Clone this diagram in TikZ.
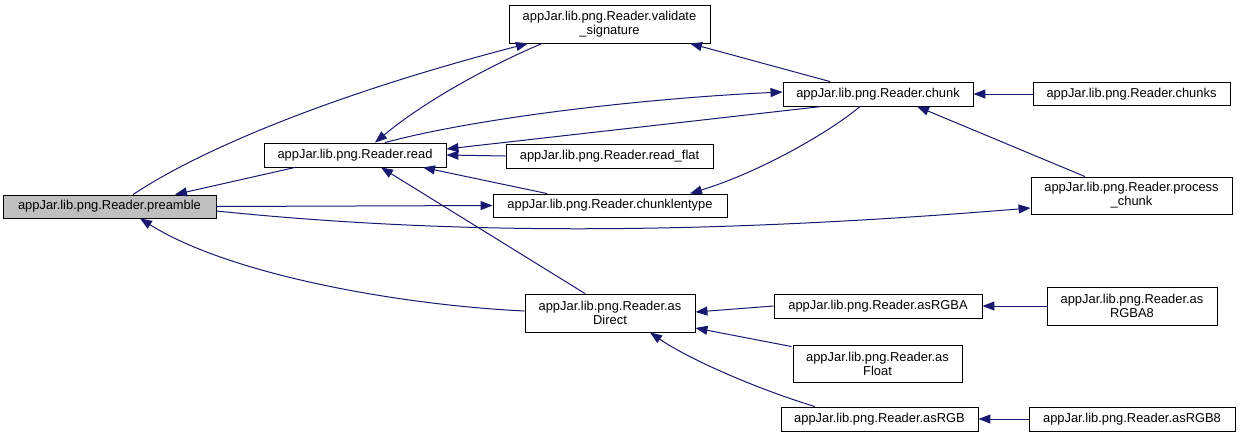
\documentclass[tikz,border=0pt]{standalone}
\usepackage{fontspec}
\setmainfont{Liberation Sans}
\usetikzlibrary{arrows.meta}
\definecolor{edgec}{HTML}{191970}
\definecolor{hl}{HTML}{BFBFBF}
\begin{document}
\begin{tikzpicture}[x=1pt,y=-1pt,
  fn/.style={draw=black, line width=0.9pt, fill=white, inner sep=0pt, align=center,
    font=\fontsize{12.9}{14}\selectfont, text=black},
  e/.style={draw=edgec, line width=1pt, -{Triangle[length=12pt,width=9pt,fill=edgec]}}]
\useasboundingbox[fill=white] (0,0) rectangle (1240,437);
% nodes
\node[fn, fill=hl, minimum width=213pt, minimum height=23pt] (pre) at (109.5,206.5) {appJar.lib.png.Reader.preamble};
\node[fn, minimum width=182pt, minimum height=24pt] (read) at (355,155) {appJar.lib.png.Reader.read};
\node[fn, minimum width=201pt, minimum height=38pt] (vs) at (609.5,24) {appJar.lib.png.Reader.validate\\\_signature};
\node[fn, minimum width=190pt, minimum height=24pt] (chunk) at (878,94) {appJar.lib.png.Reader.chunk};
\node[fn, minimum width=197pt, minimum height=23pt] (chunks) at (1131.5,94) {appJar.lib.png.Reader.chunks};
\node[fn, minimum width=207pt, minimum height=24pt] (flat) at (609.5,156) {appJar.lib.png.Reader.read\_flat};
\node[fn, minimum width=234pt, minimum height=23pt] (clt) at (610,205.5) {appJar.lib.png.Reader.chunklentype};
\node[fn, minimum width=201pt, minimum height=37pt] (pc) at (1131.5,195.5) {appJar.lib.png.Reader.process\\\_chunk};
\node[fn, minimum width=170pt, minimum height=38pt] (dir) at (610,313) {appJar.lib.png.Reader.as\\Direct};
\node[fn, minimum width=208pt, minimum height=24pt] (rgba) at (878,306) {appJar.lib.png.Reader.asRGBA};
\node[fn, minimum width=170pt, minimum height=38pt] (rgba8) at (1132,306) {appJar.lib.png.Reader.as\\RGBA8};
\node[fn, minimum width=169pt, minimum height=37pt] (flt) at (877.5,363.5) {appJar.lib.png.Reader.as\\Float};
\node[fn, minimum width=197pt, minimum height=24pt] (rgb) at (879.5,419) {appJar.lib.png.Reader.asRGB};
\node[fn, minimum width=206pt, minimum height=24pt] (rgb8) at (1132,419) {appJar.lib.png.Reader.asRGB8};
% edges
\draw[e] ([xshift=23.5pt]pre.north) .. controls (200,150) and (330,95) .. ([xshift=-81.5pt]vs.south);
\draw[e] ([xshift=-67.5pt]vs.south) .. controls (480,70) and (420,105) .. ([xshift=20pt]read.north);
\draw[e] ([xshift=-48pt]chunk.north) -- ([xshift=80.5pt]vs.south);
\draw[e] ([xshift=30pt]read.north) .. controls (480,117) and (650,98) .. ([yshift=2pt]chunk.west);
\draw[e] ([xshift=-56pt]chunk.south) -- ([yshift=6pt]read.east);
\draw[e] (flat.west) -- (read.east);
\draw[e] ([xshift=-63pt]clt.north) -- ([xshift=68pt]read.south);
\draw[e] ([xshift=-18pt]chunk.south) .. controls (830,132) and (760,172) .. ([xshift=80pt]clt.north);
\draw[e] ([xshift=-25pt]dir.north) -- ([xshift=26pt]read.south);
\draw[e] ([xshift=-60pt]read.south) -- ([xshift=65.5pt]pre.north);
\draw[e] (pre.east) -- (clt.west);
\draw[e] ([yshift=-4.5pt]pre.east) .. controls (450,235) and (700,235) .. ([yshift=-12.5pt]pc.west);
\draw[e] ([yshift=2pt]dir.west) .. controls (400,305) and (230,275) .. ([xshift=30.5pt]pre.south);
\draw[e] (chunks.west) -- (chunk.east);
\draw[e] ([xshift=-46.5pt]pc.north) -- ([xshift=39pt]chunk.south);
\draw[e] (rgba.west) -- ([yshift=1pt]dir.east);
\draw[e] ([xshift=-1pt,yshift=-2pt]flt.north west) -- ([yshift=-15pt]dir.east);
\draw[e] ([xshift=-64.5pt]rgb.north) .. controls (760,390) and (690,360) .. ([xshift=40pt]dir.south);
\draw[e] (rgba8.west) -- (rgba.east);
\draw[e] (rgb8.west) -- (rgb.east);
\end{tikzpicture}
\end{document}
